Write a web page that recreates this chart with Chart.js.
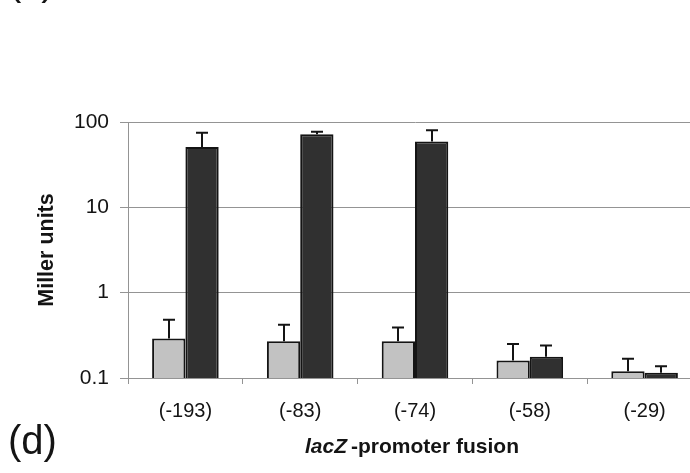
<!DOCTYPE html>
<html>
<head>
<meta charset="utf-8">
<title>lacZ-promoter fusion activity</title>
<script src="https://cdn.jsdelivr.net/npm/chart.js@4/dist/chart.umd.min.js"></script>
<style>
  html, body { margin: 0; padding: 0; background: #fff; overflow: hidden; }
  body { width: 690px; height: 473px; }
  #wrap { position: relative; width: 702px; height: 473px; }
</style>
</head>
<body>
<div id="wrap"><canvas id="chart" width="702" height="473"></canvas></div>
<script>
// Promoter fusions (upstream end of each construct)
const categories = ['(-193)', '(-83)', '(-74)', '(-58)', '(-29)'];

// Mean Miller units for the two conditions
const lightValues = [0.29, 0.27, 0.27, 0.16, 0.12];
const darkValues  = [51, 72, 59, 0.178, 0.115];

// Upper error (added on top of each mean)
const lightErrors = [0.19, 0.15, 0.12, 0.09, 0.048];
const darkErrors  = [24, 5, 21, 0.062, 0.022];

// Decade ticks on the log axis
const yTicks = [0.1, 1, 10, 100];
const yTickLabels = ['0.1', '1', '10', '100'];

const FONT = "'Liberation Sans', Arial, Helvetica, sans-serif";
const INK = '#141414';
const GRID = '#949494';

// One-sided (upward) error bars with a flat cap
const errorBars = {
  id: 'errorBars',
  afterDatasetsDraw(chart) {
    const ctx = chart.ctx;
    const y = chart.scales.y;
    ctx.save();
    ctx.strokeStyle = INK;
    ctx.lineWidth = 2;
    chart.data.datasets.forEach((ds, i) => {
      const meta = chart.getDatasetMeta(i);
      meta.data.forEach((bar, j) => {
        const v = ds.data[j];
        const top = y.getPixelForValue(v + ds.errors[j]);
        const base = y.getPixelForValue(v);
        const x = Math.round(bar.x);
        ctx.beginPath();
        ctx.moveTo(x, base);
        ctx.lineTo(x, top);
        ctx.moveTo(x - 6, top);
        ctx.lineTo(x + 6, top);
        ctx.stroke();
      });
    });
    ctx.restore();
  }
};

// Axis title with an italic gene name, plus the panel letters
const labels = {
  id: 'labels',
  afterDraw(chart) {
    const ctx = chart.ctx;
    ctx.save();
    ctx.fillStyle = INK;
    ctx.textBaseline = 'alphabetic';
    ctx.textAlign = 'left';

    const part1 = 'lacZ';
    const part2 = '-promoter fusion';
    const f1 = 'italic bold 21px ' + FONT;
    const f2 = 'bold 21px ' + FONT;
    ctx.font = f1;
    const w1 = ctx.measureText(part1).width;
    ctx.font = f2;
    const w2 = ctx.measureText(part2).width;
    const gap = 4;
    const cx = 412;
    let x = cx - (w1 + gap + w2) / 2;
    const baseY = 453;
    ctx.font = f1;
    ctx.fillText(part1, x, baseY);
    ctx.font = f2;
    ctx.fillText(part2, x + w1 + gap, baseY);

    ctx.font = '40px ' + FONT;
    ctx.fillText('(d)', 8, 454);
    ctx.fillText('(c)', 8, -5);
    ctx.restore();
  }
};

new Chart(document.getElementById('chart'), {
  type: 'bar',
  data: {
    labels: categories,
    datasets: [
      {
        data: lightValues,
        errors: lightErrors,
        backgroundColor: '#c2c2c2',
        borderColor: INK,
        borderWidth: 2,
        categoryPercentage: 0.58,
        barPercentage: 1
      },
      {
        data: darkValues,
        errors: darkErrors,
        backgroundColor: '#303030',
        borderColor: INK,
        borderWidth: 2,
        categoryPercentage: 0.58,
        barPercentage: 1
      }
    ]
  },
  options: {
    responsive: false,
    animation: false,
    devicePixelRatio: 1,
    layout: { padding: { top: 122, right: 0, bottom: 0, left: 0 } },
    plugins: {
      legend: { display: false },
      tooltip: { enabled: false }
    },
    scales: {
      x: {
        type: 'category',
        grid: {
          display: true,
          offset: true,
          drawOnChartArea: false,
          drawTicks: true,
          tickLength: 6,
          color: GRID,
          lineWidth: 1
        },
        border: { display: true, color: GRID, width: 1 },
        ticks: {
          color: INK,
          font: { family: FONT, size: 20 },
          padding: 15,
          maxRotation: 0,
          autoSkip: false
        },
        afterFit(scale) { scale.height = 95; }
      },
      y: {
        type: 'logarithmic',
        min: 0.1,
        max: 100,
        afterBuildTicks(scale) {
          scale.ticks = yTicks.map(v => ({ value: v }));
        },
        afterFit(scale) { scale.width = 128; },
        grid: {
          color: GRID,
          lineWidth: 1,
          drawTicks: true,
          tickLength: 8
        },
        border: { display: true, color: GRID, width: 1 },
        ticks: {
          color: INK,
          font: { family: FONT, size: 21 },
          padding: 11,
          callback(value) {
            const k = yTicks.indexOf(value);
            return k >= 0 ? yTickLabels[k] : '';
          }
        },
        title: {
          display: true,
          text: 'Miller units',
          color: INK,
          font: { family: FONT, size: 21.5, weight: 'bold' },
          padding: { top: 34, bottom: 0 }
        }
      }
    }
  },
  plugins: [errorBars, labels]
});
</script>
</body>
</html>
